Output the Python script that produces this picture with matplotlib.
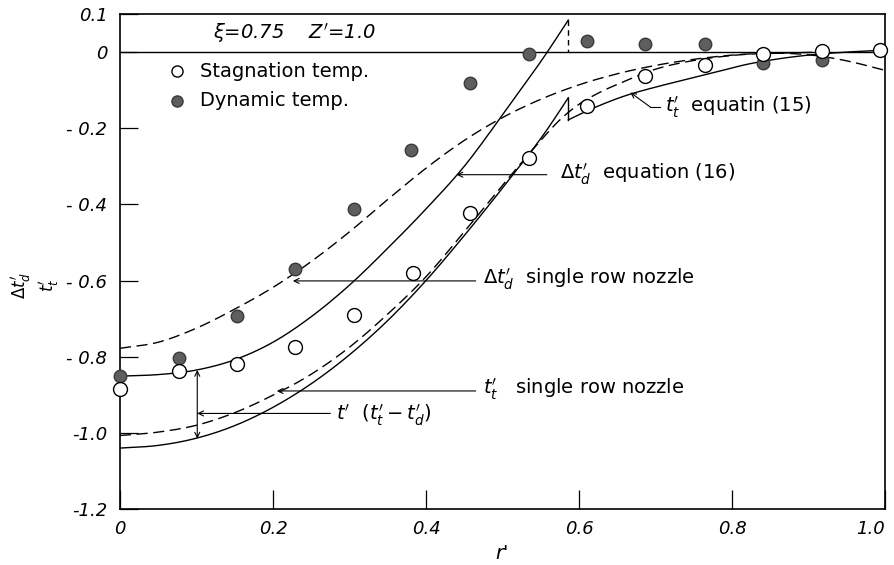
import matplotlib
matplotlib.use("Agg")
import matplotlib.pyplot as plt
import numpy as np

# Measured points (r' positions)
r_pts = [0.0, 0.077, 0.153, 0.229, 0.306, 0.383, 0.458, 0.535, 0.611, 0.686,
         0.765, 0.840, 0.917, 0.994]
stagnation = [-0.885, -0.838, -0.820, -0.774, -0.691, -0.581, -0.422, -0.277,
              -0.142, -0.064, -0.033, -0.005, 0.002, 0.005]
r_dyn = [0.0, 0.077, 0.153, 0.229, 0.306, 0.381, 0.458, 0.535, 0.611, 0.686,
         0.765, 0.840, 0.917]
dynamic = [-0.850, -0.803, -0.692, -0.570, -0.413, -0.256, -0.081, -0.006,
           0.028, 0.020, 0.020, -0.029, -0.022]

# Delta t_d' single row nozzle (dashed)
r_dtd_single = [0.0, 0.05, 0.1, 0.15, 0.2, 0.25, 0.3, 0.35, 0.4, 0.45, 0.5, 0.55,
                0.6, 0.65, 0.7, 0.75, 0.8, 0.85, 0.9, 0.95, 1.0]
dtd_single = [-0.778, -0.762, -0.725, -0.675, -0.618, -0.550, -0.472, -0.387,
              -0.305, -0.232, -0.172, -0.124, -0.086, -0.057, -0.035, -0.019,
              -0.008, -0.003, -0.007, -0.023, -0.048]

# Delta t_d' equation (16) (solid, ends at r'=0.586)
r_dtd_eq16 = [0.0, 0.05, 0.1, 0.15, 0.2, 0.25, 0.3, 0.35, 0.4, 0.45, 0.5, 0.55, 0.586]
dtd_eq16 = [-0.851, -0.847, -0.835, -0.808, -0.762, -0.695, -0.612, -0.515,
            -0.412, -0.300, -0.165, -0.025, 0.084]

# t_t' equation (15) (solid, two branches with a jump at r'=0.586)
r_tt_eq15_a = [0.0, 0.05, 0.1, 0.15, 0.2, 0.25, 0.3, 0.35, 0.4, 0.45, 0.5, 0.55, 0.586]
tt_eq15_a = [-1.040, -1.033, -1.014, -0.981, -0.933, -0.871, -0.795, -0.705,
             -0.600, -0.482, -0.357, -0.227, -0.120]
r_tt_eq15_b = [0.586, 0.62, 0.66, 0.70, 0.74, 0.78, 0.82, 0.86, 0.90, 0.95, 1.0]
tt_eq15_b = [-0.178, -0.146, -0.115, -0.092, -0.072, -0.052, -0.032, -0.018,
             -0.008, 0.000, 0.005]

# t_t' single row nozzle (dashed)
r_tt_single = [0.0, 0.05, 0.1, 0.15, 0.2, 0.25, 0.3, 0.35, 0.4, 0.45, 0.5, 0.525,
               0.55, 0.575, 0.6, 0.625, 0.65, 0.7, 0.75, 0.8, 0.84, 0.92]
tt_single = [-1.007, -0.998, -0.980, -0.947, -0.901, -0.846, -0.775, -0.688,
             -0.590, -0.472, -0.350, -0.290, -0.232, -0.178, -0.137, -0.108,
             -0.085, -0.045, -0.022, -0.009, -0.004, 0.000]

y_ticks = [0.1, 0.0, -0.2, -0.4, -0.6, -0.8, -1.0, -1.2]
y_labels = ["0.1", "0", "- 0.2", "- 0.4", "- 0.6", "- 0.8", "-1.0", "-1.2"]
x_ticks = [0.0, 0.2, 0.4, 0.6, 0.8, 1.0]
x_labels = ["0", "0.2", "0.4", "0.6", "0.8", "1.0"]


def smooth(x, y, n=24):
    """Draw a curve through the given points with a Catmull-Rom spline."""
    x = np.asarray(x, float)
    y = np.asarray(y, float)
    px = np.concatenate([[2 * x[0] - x[1]], x, [2 * x[-1] - x[-2]]])
    py = np.concatenate([[2 * y[0] - y[1]], y, [2 * y[-1] - y[-2]]])
    xs, ys = [], []
    t = np.linspace(0, 1, n, endpoint=False)
    for i in range(1, len(px) - 2):
        for (a, b, c, d, out) in ((*px[i - 1:i + 3], xs), (*py[i - 1:i + 3], ys)):
            out.extend(0.5 * ((2 * b) + (-a + c) * t + (2 * a - 5 * b + 4 * c - d) * t ** 2
                              + (-a + 3 * b - 3 * c + d) * t ** 3))
    xs.append(x[-1])
    ys.append(y[-1])
    return np.array(xs), np.array(ys)


fig = plt.figure(figsize=(8.95, 5.65), dpi=100)
ax = fig.add_axes([120 / 895, 56 / 565, 765 / 895, 495 / 565])
ax.set_xlim(0, 1.0)
ax.set_ylim(-1.2, 0.1)

lw = 1.0
dash = (0, (8, 4))
ax.axhline(0, color="black", lw=lw)

ax.plot(*smooth(r_dtd_single, dtd_single), color="black", lw=lw, linestyle=dash)
ax.plot(*smooth(r_tt_single, tt_single), color="black", lw=lw, linestyle=dash)
ax.plot(*smooth(r_dtd_eq16, dtd_eq16), color="black", lw=lw)
ax.plot([r_dtd_eq16[-1], r_dtd_eq16[-1]], [dtd_eq16[-1], 0], color="black",
        lw=lw, linestyle=(0, (4, 3)))
ax.plot(*smooth(r_tt_eq15_a, tt_eq15_a), color="black", lw=lw)
ax.plot([r_tt_eq15_a[-1], r_tt_eq15_b[0]], [tt_eq15_a[-1], tt_eq15_b[0]],
        color="black", lw=lw)
ax.plot(*smooth(r_tt_eq15_b, tt_eq15_b), color="black", lw=lw)

ax.plot(r_dyn, dynamic, "o", ms=9, mfc="#5e5e5e", mec="#3a3a3a", mew=1.0,
        clip_on=False, zorder=4)
ax.plot(r_pts, stagnation, "o", ms=10, mfc="white", mec="black", mew=1.0,
        clip_on=False, zorder=5)

fs = 14
# Legend and parameters
ax.text(0.122, 0.05, r"$\xi$=0.75    $Z'$=1.0", fontsize=14, style="italic",
        va="center", ha="left")
ax.plot([0.074], [-0.050], "o", ms=8, mfc="white", mec="black", mew=1.0)
ax.text(0.105, -0.050, "Stagnation temp.", fontsize=fs, va="center", ha="left")
ax.plot([0.074], [-0.128], "o", ms=8, mfc="#5e5e5e", mec="#3a3a3a", mew=1.0)
ax.text(0.105, -0.128, "Dynamic temp.", fontsize=fs, va="center", ha="left")

arrow = dict(arrowstyle="->", color="black", lw=0.8, shrinkA=0, shrinkB=0,
             mutation_scale=9)

# Curve annotations
ax.annotate("", xy=(0.667, -0.106), xytext=(0.693, -0.144), arrowprops=arrow)
ax.plot([0.693, 0.706], [-0.144, -0.144], color="black", lw=0.8)
ax.text(0.712, -0.144, r"$t_t'$  equatin (15)", fontsize=fs, va="center")

ax.annotate("", xy=(0.440, -0.322), xytext=(0.558, -0.322), arrowprops=arrow)
ax.text(0.575, -0.322, r"$\Delta t_d'$  equation (16)", fontsize=fs, va="center")

ax.annotate("", xy=(0.226, -0.601), xytext=(0.465, -0.601), arrowprops=arrow)
ax.text(0.475, -0.596, r"$\Delta t_d'$  single row nozzle", fontsize=fs, va="center")

ax.annotate("", xy=(0.205, -0.890), xytext=(0.465, -0.890), arrowprops=arrow)
ax.text(0.475, -0.885, r"$t_t'$   single row nozzle", fontsize=fs, va="center")

ax.annotate("", xy=(0.101, -0.949), xytext=(0.275, -0.949), arrowprops=arrow)
ax.text(0.282, -0.955, r"$t'$  $(t_t'-t_d')$", fontsize=fs, va="center")

ax.annotate("", xy=(0.101, -0.835), xytext=(0.101, -0.949), arrowprops=arrow)
ax.annotate("", xy=(0.101, -1.015), xytext=(0.101, -0.949), arrowprops=arrow)

# Axes styling
for s in ax.spines.values():
    s.set_linewidth(1.2)
ax.set_yticks(y_ticks)
ax.set_yticklabels(y_labels, fontsize=13, style="italic")
ax.set_xticks(x_ticks)
ax.set_xticklabels(x_labels, fontsize=13, style="italic")
ax.get_xticklabels()[-1].set_horizontalalignment("right")
ax.tick_params(axis="y", direction="in", length=13, width=0.9, pad=9)
ax.tick_params(axis="x", direction="in", length=14, width=0.9, pad=8)

ax.set_xlabel("r'", fontsize=14, style="italic", labelpad=4)
fig.text(35 / 895, 1 - 285 / 565, "$\\Delta t_d'$\n$t_t'$", rotation=90,
         fontsize=12, ha="center", va="center", multialignment="center")

fig.savefig("out.png", dpi=100)
